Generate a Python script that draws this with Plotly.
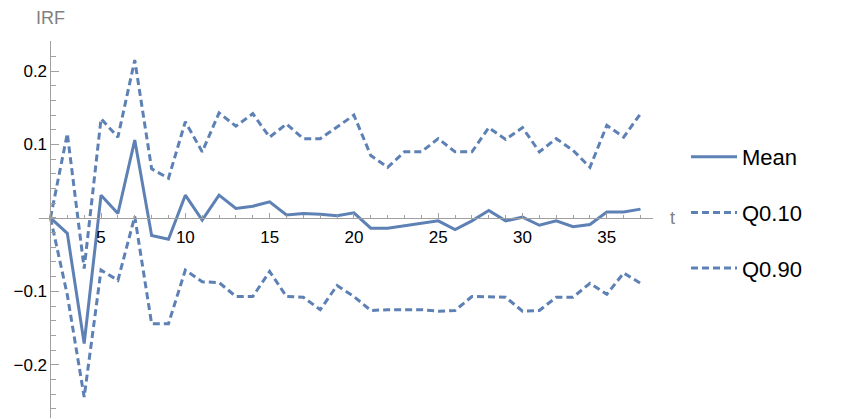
import plotly.graph_objects as go

# Horizon (periods)
t = list(range(2, 38))

# Mean impulse response
irf_mean = [0.000, -0.021, -0.171, 0.031, 0.006, 0.106, -0.024, -0.029, 0.031, -0.003,
            0.031, 0.013, 0.016, 0.022, 0.004, 0.006, 0.005, 0.003, 0.007, -0.014,
            -0.014, -0.011, -0.008, -0.004, -0.016, -0.004, 0.010, -0.004, 0.001, -0.010,
            -0.004, -0.012, -0.009, 0.008, 0.008, 0.012]

# 10% quantile band
irf_q10 = [0.000, -0.105, -0.244, -0.071, -0.085, 0.002, -0.144, -0.144, -0.071, -0.087,
           -0.088, -0.107, -0.107, -0.073, -0.107, -0.108, -0.125, -0.092, -0.107, -0.126,
           -0.125, -0.125, -0.125, -0.127, -0.126, -0.107, -0.107, -0.108, -0.127, -0.126,
           -0.108, -0.108, -0.089, -0.104, -0.075, -0.089]

# 90% quantile band
irf_q90 = [0.000, 0.115, -0.069, 0.135, 0.110, 0.215, 0.067, 0.054, 0.131, 0.090,
           0.143, 0.125, 0.142, 0.110, 0.128, 0.108, 0.108, 0.124, 0.140, 0.085,
           0.069, 0.090, 0.090, 0.108, 0.090, 0.090, 0.123, 0.107, 0.123, 0.090,
           0.108, 0.092, 0.069, 0.126, 0.110, 0.142]

y_tick_vals = [-0.2, -0.1, 0.1, 0.2]
y_tick_text = ["\u22120.2", "\u22120.1", "0.1", "0.2"]
x_tick_vals = [5, 10, 15, 20, 25, 30, 35]

BLUE = "#5E81B5"
AXIS = "#a0a0a0"
FONT = "Liberation Sans, Arial, sans-serif"

W, H = 843, 418
ML, MR, MT, MB = 39, 190, 41, 0
plot_w = W - ML - MR
plot_h = H - MT - MB

x_lo, x_hi = 1.32, 37.74
y_lo, y_hi = -0.2725, 0.241

fig = go.Figure()
fig.add_trace(go.Scatter(x=t, y=irf_mean, mode="lines", name="Mean",
                         line=dict(color=BLUE, width=3), legendgroup="a"))
fig.add_trace(go.Scatter(x=t, y=irf_q10, mode="lines", name="Q0.10",
                         line=dict(color=BLUE, width=3, dash="7px,4px"), legendgroup="b"))
fig.add_trace(go.Scatter(x=t, y=irf_q90, mode="lines", name="Q0.90",
                         line=dict(color=BLUE, width=3, dash="7px,4px"), legendgroup="c"))

# axes cross at (2, 0)
x_axis_pos = (0 - y_lo) / (y_hi - y_lo)
y_axis_pos = (2 - x_lo) / (x_hi - x_lo)

fig.update_layout(
    width=W, height=H,
    margin=dict(l=ML, r=MR, t=MT, b=MB, pad=0),
    paper_bgcolor="white", plot_bgcolor="white",
    font=dict(family=FONT, size=17, color="#000000"),
    xaxis=dict(range=[x_lo, x_hi], anchor="free", position=x_axis_pos,
               showgrid=False, zeroline=False, showline=True, linecolor=AXIS, linewidth=1,
               ticks="inside", ticklen=5, tickcolor=AXIS, tickwidth=1,
               tickvals=x_tick_vals, tickfont=dict(size=17, color="#000000"),
               ticklabelstandoff=4,
               minor=dict(ticks="inside", ticklen=3, tickcolor=AXIS, dtick=1, tick0=0,
                          showgrid=False)),
    yaxis=dict(range=[y_lo, y_hi], anchor="free", position=y_axis_pos,
               showgrid=False, zeroline=False, showline=True, linecolor=AXIS, linewidth=1,
               ticks="inside", ticklen=8, tickcolor=AXIS, tickwidth=1,
               tickvals=y_tick_vals, ticktext=y_tick_text,
               tickfont=dict(size=17, color="#000000"),
               minor=dict(ticks="inside", ticklen=5, tickcolor=AXIS, dtick=0.02, tick0=0,
                          showgrid=False)),
    legend=dict(x=(686 - ML) / plot_w, xanchor="left", y=(H - 136 - MB) / plot_h,
                yanchor="top", font=dict(size=22, family=FONT, color="#000000"),
                tracegroupgap=24, bgcolor="rgba(0,0,0,0)", itemwidth=46),
    showlegend=True,
)

fig.add_annotation(text="IRF", xref="paper", yref="paper",
                   x=y_axis_pos, y=(H - 18 - MB) / plot_h, xanchor="center", yanchor="middle",
                   showarrow=False, font=dict(size=18, color="#808080", family=FONT))
fig.add_annotation(text="t", xref="paper", yref="paper",
                   x=(672 - ML) / plot_w, y=x_axis_pos, xanchor="center", yanchor="middle",
                   showarrow=False, font=dict(size=18, color="#808080", family=FONT))

fig.write_html("out.html")
